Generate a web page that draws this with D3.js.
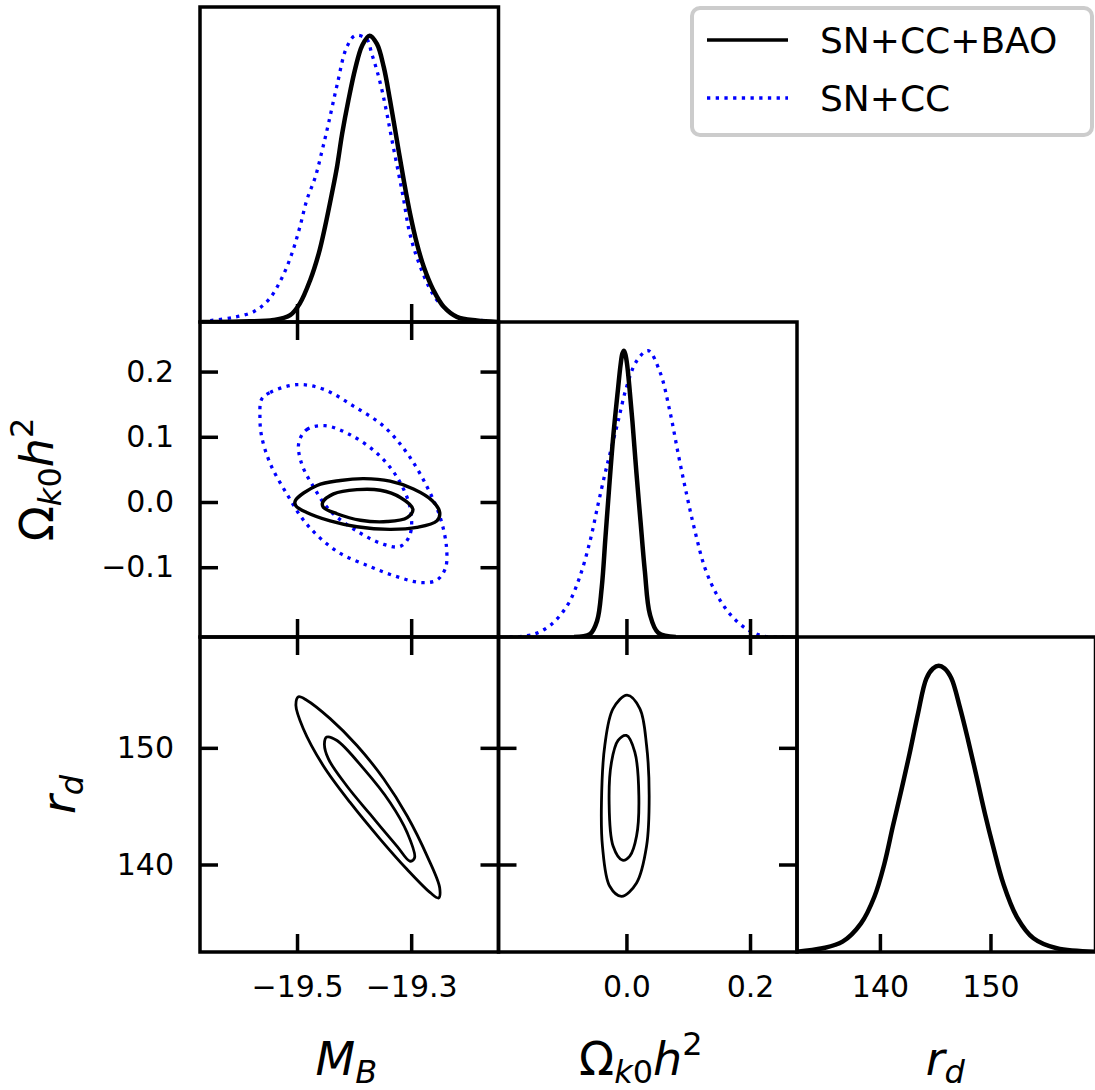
<!DOCTYPE html>
<html>
<head>
<meta charset="utf-8">
<script src="https://cdn.jsdelivr.net/npm/d3@7"></script>
<style>
  body { margin: 0; background: #fff; }
  svg text { font-family: "DejaVu Sans", sans-serif; }
</style>
</head>
<body>
<div id="chart"></div>
<script>
// axis ranges + ticks
const mbRange = [-19.67, -19.147]
const okRange = [-0.207, 0.276]
const rdRange = [132.5, 159.5]
const mbTicks = [-19.5, -19.3]
const okTicksX = [0.0, 0.2]
const okTicksY = [-0.1, 0.0, 0.1, 0.2]
const rdTicks = [140, 150]
const legendLabels = ['SN+CC+BAO', 'SN+CC']

// 1D marginals: [value, density / peak]
const mbBAO = [[-19.667, 0.0], [-19.6, 0.002], [-19.541, 0.007], [-19.512, 0.024], [-19.495, 0.065], [-19.477, 0.146],
  [-19.462, 0.239], [-19.451, 0.332], [-19.439, 0.448], [-19.43, 0.541], [-19.421, 0.657], [-19.41, 0.774],
  [-19.398, 0.885], [-19.386, 0.965], [-19.373, 1.0], [-19.36, 0.971], [-19.348, 0.89], [-19.337, 0.774],
  [-19.325, 0.634], [-19.313, 0.495], [-19.302, 0.379], [-19.29, 0.274], [-19.278, 0.193], [-19.261, 0.111],
  [-19.243, 0.053], [-19.22, 0.018], [-19.185, 0.005], [-19.148, 0.0]]
const mbSN = [[-19.652, 0.005], [-19.612, 0.016], [-19.576, 0.036], [-19.55, 0.077], [-19.527, 0.152], [-19.509, 0.239],
  [-19.495, 0.332], [-19.483, 0.425], [-19.468, 0.506], [-19.456, 0.599], [-19.445, 0.692], [-19.43, 0.826],
  [-19.413, 0.959], [-19.398, 1.0], [-19.378, 0.988], [-19.369, 0.936], [-19.36, 0.878], [-19.351, 0.808],
  [-19.342, 0.722], [-19.333, 0.628], [-19.322, 0.518], [-19.313, 0.425], [-19.305, 0.332], [-19.296, 0.262],
  [-19.284, 0.193], [-19.269, 0.123], [-19.255, 0.077], [-19.237, 0.042], [-19.22, 0.018], [-19.196, 0.009], [-19.173, 0.005]]
const okBAO = [[-0.085, 0.0], [-0.059, 0.01], [-0.0475, 0.056], [-0.04, 0.172], [-0.034, 0.346], [-0.028, 0.52],
  [-0.0216, 0.694], [-0.0135, 0.869], [-0.0095, 0.95], [-0.0065, 0.99], [-0.004, 1.0], [-0.0015, 0.985],
  [0.0012, 0.95], [0.0045, 0.88], [0.0097, 0.753], [0.016, 0.578],
  [0.0228, 0.404], [0.0298, 0.23], [0.038, 0.079], [0.0514, 0.015], [0.08, 0.0]]
const okSN = [[-0.189, 0.0], [-0.151, 0.009], [-0.1215, 0.044], [-0.0946, 0.114], [-0.076, 0.207], [-0.059, 0.334],
  [-0.046, 0.462], [-0.035, 0.567], [-0.027, 0.637], [-0.0135, 0.753], [-0.0003, 0.869], [0.016, 0.962],
  [0.035, 1.0], [0.054, 0.927], [0.0704, 0.787], [0.084, 0.637], [0.0975, 0.497], [0.111, 0.369],
  [0.127, 0.241], [0.146, 0.149], [0.168, 0.079], [0.195, 0.027], [0.222, 0.003], [0.254, 0.0]]
const rdBAO = [[132.5, 0.001], [134.8, 0.013], [136.62, 0.036], [138.29, 0.1], [139.5, 0.193], [140.41, 0.309],
  [141.16, 0.437], [141.93, 0.564], [142.68, 0.692], [143.44, 0.832], [144.2, 0.955], [144.8, 0.99], [145.32, 1.0],
  [145.85, 0.99], [146.47, 0.955], [147.23, 0.855], [147.98, 0.739], [148.75, 0.611], [149.5, 0.483], [150.25, 0.367],
  [151.16, 0.239], [152.38, 0.123], [153.89, 0.048], [156.0, 0.013], [159.5, 0.001]]

// 2D contours (68% / 95%), closed outlines
const mbOk95BAO = [[-19.503, 0.002], [-19.465, 0.0254], [-19.424, 0.033], [-19.383, 0.0358], [-19.337, 0.032],
  [-19.296, 0.02], [-19.263, 0.002], [-19.25, -0.016], [-19.255, -0.029], [-19.29, -0.039], [-19.337, -0.042],
  [-19.395, -0.038], [-19.442, -0.029], [-19.483, -0.016], [-19.502, -0.006]]
const mbOk68BAO = [[-19.455, -0.0005], [-19.436, 0.0125], [-19.395, 0.019], [-19.354, 0.018], [-19.319, 0.007],
  [-19.297, -0.011], [-19.307, -0.024], [-19.342, -0.03], [-19.389, -0.028], [-19.43, -0.018], [-19.454, -0.008]]
const mbOk95SN = [[-19.562, 0.1576], [-19.547, 0.168], [-19.5, 0.18], [-19.454, 0.173], [-19.401, 0.147],
  [-19.348, 0.116], [-19.307, 0.0747], [-19.272, 0.023], [-19.249, -0.024], [-19.238, -0.0706], [-19.24, -0.1016],
  [-19.255, -0.1197], [-19.284, -0.1234], [-19.325, -0.1145], [-19.372, -0.099], [-19.43, -0.0757],
  [-19.483, -0.034], [-19.518, 0.0125], [-19.547, 0.059], [-19.562, 0.1005], [-19.565, 0.132]]
const mbOk68SN = [[-19.497, 0.0903], [-19.483, 0.111], [-19.451, 0.117], [-19.407, 0.1032], [-19.36, 0.0747],
  [-19.325, 0.0383], [-19.302, -0.0083], [-19.302, -0.05], [-19.319, -0.068], [-19.348, -0.065],
  [-19.395, -0.0446], [-19.442, -0.0135], [-19.471, 0.023], [-19.492, 0.059]]
const mbRd95BAO = [[-19.4975, 154.37], [-19.483, 154.08], [-19.442, 152.5], [-19.395, 150.2], [-19.348, 147.33],
  [-19.307, 144.16], [-19.272, 140.72], [-19.25, 137.99], [-19.252, 137.13], [-19.266, 137.56], [-19.307, 139.57],
  [-19.354, 142.16], [-19.407, 145.32], [-19.454, 148.47], [-19.489, 151.64], [-19.502, 153.65]]
const mbRd68BAO = [[-19.448, 150.92], [-19.43, 150.63], [-19.383, 148.19], [-19.337, 145.32], [-19.307, 142.73],
  [-19.294, 140.58], [-19.302, 140.28], [-19.325, 141.58], [-19.372, 144.31], [-19.413, 146.75],
  [-19.445, 149.05], [-19.452, 150.34]]
const okRd95BAO = [[0.0011, 154.51], [0.0217, 153.36], [0.0326, 150.2], [0.0368, 145.89], [0.0326, 141.58],
  [0.0164, 138.42], [-0.0079, 137.27], [-0.027, 138.13], [-0.0388, 141.58], [-0.0404, 145.32],
  [-0.035, 150.2], [-0.0216, 153.36]]
const okRd68BAO = [[0.0, 151.06], [0.0136, 149.63], [0.0201, 145.89], [0.0164, 142.44], [0.0055, 140.72],
  [-0.0064, 140.37], [-0.0216, 141.58], [-0.028, 145.32], [-0.0242, 148.77], [-0.0135, 150.63]]

const blue = '#0000ff'
const pw = 298.5, ph = 315, tickLen = 18
const colX = [200, 498.5, 797]
const rowY = [7, 322, 637]
const ranges = [mbRange, okRange, rdRange]
const xTicks = [mbTicks, okTicksX, rdTicks]
const yTicks = [mbTicks, okTicksY, rdTicks]
const fmt = [d3.format('.1f'), d3.format('.1f'), d3.format('d')]

const svg = d3.select('#chart').append('svg')
  .attr('width', 1095).attr('height', 1090)
  .style('background', '#fff')

// which sets go in which panel: [data, is SN+CC, line width]
const panels = [
  { r: 0, c: 0, lines: [[mbSN, true, 3.3], [mbBAO, false, 4.5]] },
  { r: 1, c: 0, shapes: [[mbOk95SN, true, 3.3], [mbOk68SN, true, 3.3], [mbOk95BAO, false, 3.4], [mbOk68BAO, false, 3.4]] },
  { r: 1, c: 1, lines: [[okSN, true, 3.3], [okBAO, false, 4.5]] },
  { r: 2, c: 0, shapes: [[mbRd95BAO, false, 2.8], [mbRd68BAO, false, 2.8]] },
  { r: 2, c: 1, shapes: [[okRd95BAO, false, 2.8], [okRd68BAO, false, 2.8]] },
  { r: 2, c: 2, lines: [[rdBAO, false, 4.5]] }
]

function styleCurve(path, sn, w) {
  path.attr('fill', 'none').attr('stroke-width', w)
  if (sn) path.attr('stroke', blue).attr('stroke-dasharray', '3.3,5.4')
  else path.attr('stroke', '#000')
}

function styleAxis(ax) {
  ax.select('.domain').remove()
  ax.attr('font-family', '"DejaVu Sans", sans-serif').attr('font-size', 30)
  ax.selectAll('.tick line').attr('stroke', '#000').attr('stroke-width', 3.5)
  ax.selectAll('.tick text').attr('fill', '#000')
}

panels.forEach((p, i) => {
  const diag = p.r === p.c
  const g = svg.append('g').attr('transform', `translate(${colX[p.c]},${rowY[p.r]})`)
  const x = d3.scaleLinear().domain(ranges[p.c]).range([0, pw])
  const y = diag
    ? d3.scaleLinear().domain([0, 1.1]).range([ph, 0])
    : d3.scaleLinear().domain(ranges[p.r]).range([ph, 0])

  svg.append('clipPath').attr('id', 'clip' + i)
    .append('rect').attr('width', pw).attr('height', ph)
  const plot = g.append('g').attr('clip-path', `url(#clip${i})`)

  if (p.lines) {
    const line = d3.line().x(d => x(d[0])).y(d => y(d[1])).curve(d3.curveCatmullRom.alpha(0.5))
    p.lines.forEach(([data, sn, w]) => {
      plot.append('path').datum(data).attr('d', line).call(styleCurve, sn, w)
    })
  }
  if (p.shapes) {
    const loop = d3.line().x(d => x(d[0])).y(d => y(d[1])).curve(d3.curveCatmullRomClosed.alpha(0.5))
    p.shapes.forEach(([data, sn, w]) => {
      plot.append('path').datum(data).attr('d', loop).call(styleCurve, sn, w)
    })
  }

  // ticks point inward
  const bottom = d3.axisBottom(x).tickValues(xTicks[p.c]).tickSizeInner(-tickLen).tickSizeOuter(0).tickPadding(24)
    .tickFormat(p.r === 2 ? fmt[p.c] : '')
  g.append('g').attr('transform', `translate(0,${ph})`).call(bottom).call(styleAxis)

  if (!diag) {
    g.append('g').call(d3.axisTop(x).tickValues(xTicks[p.c]).tickSizeInner(-tickLen).tickSizeOuter(0).tickFormat(''))
      .call(styleAxis)
    g.append('g').call(d3.axisLeft(y).tickValues(yTicks[p.r]).tickSizeInner(-tickLen).tickSizeOuter(0).tickPadding(26)
      .tickFormat(p.c === 0 ? fmt[p.r] : '')).call(styleAxis)
    g.append('g').attr('transform', `translate(${pw},0)`)
      .call(d3.axisRight(y).tickValues(yTicks[p.r]).tickSizeInner(-tickLen).tickSizeOuter(0).tickFormat(''))
      .call(styleAxis)
  }

  g.append('rect').attr('width', pw).attr('height', ph)
    .attr('fill', 'none').attr('stroke', '#000').attr('stroke-width', 3.5)
})

// axis labels, math-ish with tspans
const labelParts = [
  [['M', 'i'], ['B', 'is', 8]],
  [['Ω', ''], ['k', 'is', 8], ['0', 's', 0], ['h', 'i', -8], ['2', 's', -20]],
  [['r', 'i'], ['d', 'is', 8]]
]
function mathLabel(t, parts) {
  parts.forEach(([txt, st, dy]) => {
    t.append('tspan')
      .attr('font-style', st.includes('i') ? 'italic' : 'normal')
      .attr('font-size', st.includes('s') ? 32 : 46)
      .attr('dy', dy || 0)
      .text(txt)
  })
}
const xLabelShift = [-3, -7, -1]
labelParts.forEach((parts, c) => {
  const t = svg.append('text').attr('x', colX[c] + pw / 2 + xLabelShift[c]).attr('y', 1075)
    .attr('text-anchor', 'middle').attr('fill', '#000')
  mathLabel(t, parts)
})
const yLabelX = [null, 53, 75]
;[1, 2].forEach(r => {
  const cy = rowY[r] + ph / 2
  const t = svg.append('text').attr('transform', `translate(${yLabelX[r]},${cy}) rotate(-90)`)
    .attr('text-anchor', 'middle').attr('fill', '#000')
  mathLabel(t, labelParts[r])
})

// legend
const leg = svg.append('g')
leg.append('rect').attr('x', 692).attr('y', 8).attr('width', 400).attr('height', 127).attr('rx', 8)
  .attr('fill', '#fff').attr('stroke', '#cccccc').attr('stroke-width', 4)
legendLabels.forEach((lab, i) => {
  const ly = 40 + i * 58
  const ln = leg.append('path').datum([[707, ly], [788, ly]]).attr('d', d3.line())
  if (i === 0) ln.attr('stroke', '#000').attr('stroke-width', 3.5)
  else ln.attr('stroke', blue).attr('stroke-width', 3.3).attr('stroke-dasharray', '3.3,5.4')
  leg.append('text').attr('x', 820).attr('y', ly + 13).attr('font-size', 36).attr('fill', '#000').text(lab)
})
</script>
</body>
</html>
